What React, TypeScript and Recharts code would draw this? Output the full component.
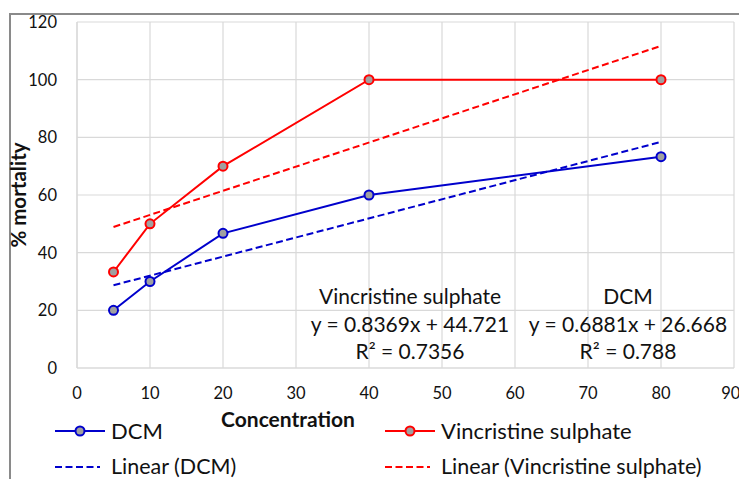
import { LineChart, Line, XAxis, YAxis, CartesianGrid } from "recharts";

const xTicks = [0, 10, 20, 30, 40, 50, 60, 70, 80, 90];
const yTicks = [0, 20, 40, 60, 80, 100, 120];

const concentrations = [5, 10, 20, 40, 80];
const dcmMortality = [20, 30, 46.7, 60, 73.3];
const vincristineMortality = [33.3, 50, 70, 100, 100];

// trendline end points
const trendX = [5, 80];
const dcmTrend = [28.7, 78.4];
const vincristineTrend = [48.9, 111.7];

const toPoints = (xs: number[], ys: number[]) => xs.map((x, i) => ({ x, y: ys[i] }));

const dcmData = toPoints(concentrations, dcmMortality);
const vinData = toPoints(concentrations, vincristineMortality);
const dcmTrendData = toPoints(trendX, dcmTrend);
const vinTrendData = toPoints(trendX, vincristineTrend);

const BLUE = "#0000cc";
const RED = "#ff0000";
const FONT = "Lato, 'Open Sans', sans-serif";
const DASH = "7 3.5";

const abs = (left: number, top: number, extra: any = {}) => ({
  position: "absolute" as const,
  left,
  top,
  whiteSpace: "nowrap" as const,
  ...extra,
});

function LegendIcon({ color, dashed }: { color: string; dashed?: boolean }) {
  return (
    <svg width={52} height={14} style={{ display: "block" }}>
      <line
        x1={1}
        y1={7}
        x2={dashed ? 46 : 51}
        y2={7}
        stroke={color}
        strokeWidth={2}
        strokeDasharray={dashed ? DASH : undefined}
      />
      {!dashed && <circle cx={26} cy={7} r={4.5} fill="#a0a0a0" stroke={color} strokeWidth={2} />}
    </svg>
  );
}

export default function App() {
  return (
    <div style={{ position: "absolute", left: 0, top: 0, width: 739, height: 479, overflow: "hidden", background: "#fff", fontFamily: FONT, color: "#111" }}>
      <div style={abs(9, 13, { width: 800, height: 500, borderTop: "2px solid #8a8a8a", borderLeft: "2px solid #8a8a8a" })} />

      <div style={abs(0, 0)}>
        <LineChart width={739} height={479} margin={{ top: 22, right: 5, bottom: 81, left: 0 }}>
          <CartesianGrid stroke="#d9d9d9" strokeWidth={1.2} />
          <XAxis
            type="number"
            dataKey="x"
            domain={[0, 90]}
            ticks={xTicks}
            height={30}
            tickLine={false}
            tickSize={0}
            tickMargin={19}
            axisLine={{ stroke: "#d9d9d9", strokeWidth: 1.2 }}
            tick={{ fill: "#111", fontSize: 16.5, fontFamily: FONT }}
            allowDataOverflow
          />
          <YAxis
            type="number"
            dataKey="y"
            width={77}
            domain={[0, 120]}
            ticks={yTicks}
            tickLine={false}
            tickSize={0}
            tickMargin={20}
            axisLine={{ stroke: "#d9d9d9", strokeWidth: 1.2 }}
            tick={{ fill: "#111", fontSize: 16.5, fontFamily: FONT }}
          />
          <Line data={dcmTrendData} dataKey="y" stroke={BLUE} strokeWidth={2} strokeDasharray={DASH} dot={false} isAnimationActive={false} />
          <Line data={vinTrendData} dataKey="y" stroke={RED} strokeWidth={2} strokeDasharray={DASH} dot={false} isAnimationActive={false} />
          <Line
            data={dcmData}
            dataKey="y"
            stroke={BLUE}
            strokeWidth={2}
            dot={{ r: 4.5, fill: "#a0a0a0", stroke: BLUE, strokeWidth: 2 }}
            isAnimationActive={false}
          />
          <Line
            data={vinData}
            dataKey="y"
            stroke={RED}
            strokeWidth={2}
            dot={{ r: 4.5, fill: "#a0a0a0", stroke: RED, strokeWidth: 2 }}
            isAnimationActive={false}
          />
        </LineChart>
      </div>

      {/* axis titles */}
      <div style={abs(18, 195, { transform: "translate(-50%, -50%) rotate(-90deg)", fontWeight: 700, fontSize: 20.5 })}>% mortality</div>
      <div style={abs(288, 418, { transform: "translate(-50%, -50%)", fontWeight: 700, fontSize: 21 })}>Concentration</div>

      {/* trendline labels */}
      <div style={abs(410, 282, { transform: "translateX(-50%)", textAlign: "center", fontSize: 21, lineHeight: "27.5px" })}>
        Vincristine sulphate
        <br />y = 0.8369x + 44.721
        <br />R² = 0.7356
      </div>
      <div style={abs(628, 282, { transform: "translateX(-50%)", textAlign: "center", fontSize: 21, lineHeight: "27.5px" })}>
        DCM
        <br />y = 0.6881x + 26.668
        <br />R² = 0.788
      </div>

      {/* legend */}
      <div style={abs(54, 424)}><LegendIcon color={BLUE} /></div>
      <div style={abs(111, 419, { fontSize: 22, lineHeight: "24px" })}>DCM</div>
      <div style={abs(384, 424)}><LegendIcon color={RED} /></div>
      <div style={abs(441, 419, { fontSize: 22, lineHeight: "24px" })}>Vincristine sulphate</div>
      <div style={abs(54, 460)}><LegendIcon color={BLUE} dashed /></div>
      <div style={abs(111, 454, { fontSize: 21.5, lineHeight: "24px" })}>Linear (DCM)</div>
      <div style={abs(384, 460)}><LegendIcon color={RED} dashed /></div>
      <div style={abs(441, 454, { fontSize: 21.5, lineHeight: "24px" })}>Linear (Vincristine sulphate)</div>
    </div>
  );
}
